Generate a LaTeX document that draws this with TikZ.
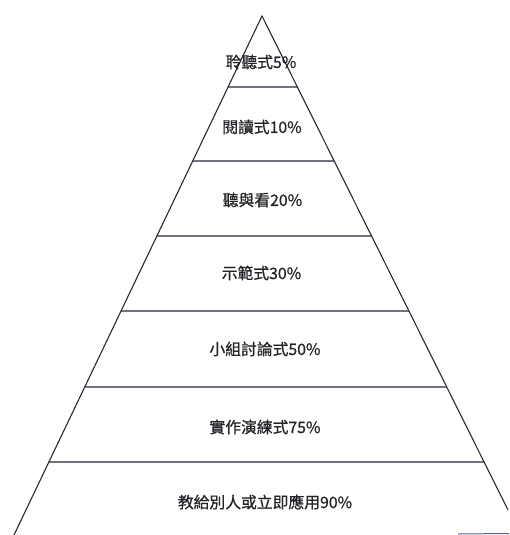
\documentclass[tikz,border=0pt]{standalone}
\usepackage{fontspec}
\newfontfamily\cjk[FakeBold=0.6]{Noto Sans CJK TC}
\usetikzlibrary{calc}
\definecolor{inkline}{RGB}{40,40,55}
\definecolor{inktext}{RGB}{35,35,40}
\definecolor{scanblue}{RGB}{90,95,150}
\tikzset{
  edge/.style={draw=inkline, line width=1.1pt},
  tier/.style={draw=inkline, line width=1.1pt},
  label/.style={font=\cjk\fontsize{15.8}{18}\selectfont, text=inktext, inner sep=0pt, anchor=center}
}
\begin{document}
\begin{tikzpicture}[x=1pt,y=1pt]
  \useasboundingbox (0,0) rectangle (509,-535);
  % outline
  \coordinate (apex) at (262,-16);
  \coordinate (bl) at (14,-535);
  \coordinate (br) at (508,-510);
  \draw[edge] (bl) -- (apex) -- (br);
  % tier separators
  \foreach \yy [count=\i] in {87,161,236,311,387,462}{
    \coordinate (L\i) at (intersection of apex--bl and {0,-\yy}--{1,-\yy});
    \coordinate (R\i) at (intersection of apex--br and {0,-\yy}--{1,-\yy});
    \draw[tier] (L\i) -- (R\i);
  }
  % scan fragment of the base line
  \coordinate (f1) at (458,-534);
  \coordinate (f2) at (509,-533.5);
  \draw[draw=scanblue, line width=1pt] (f1) -- (f2);
  % labels
  \node[label] (t1) at (261,-62)  {聆聽式5\%};
  \node[label] (t2) at (262,-127) {閱讀式10\%};
  \node[label] (t3) at (262.5,-200) {聽與看20\%};
  \node[label] (t4) at (261.5,-273) {示範式30\%};
  \node[label] (t5) at (265,-349) {小組討論式50\%};
  \node[label] (t6) at (265,-427) {實作演練式75\%};
  \node[label] (t7) at (265,-502) {教給別人或立即應用90\%};
\end{tikzpicture}
\end{document}
